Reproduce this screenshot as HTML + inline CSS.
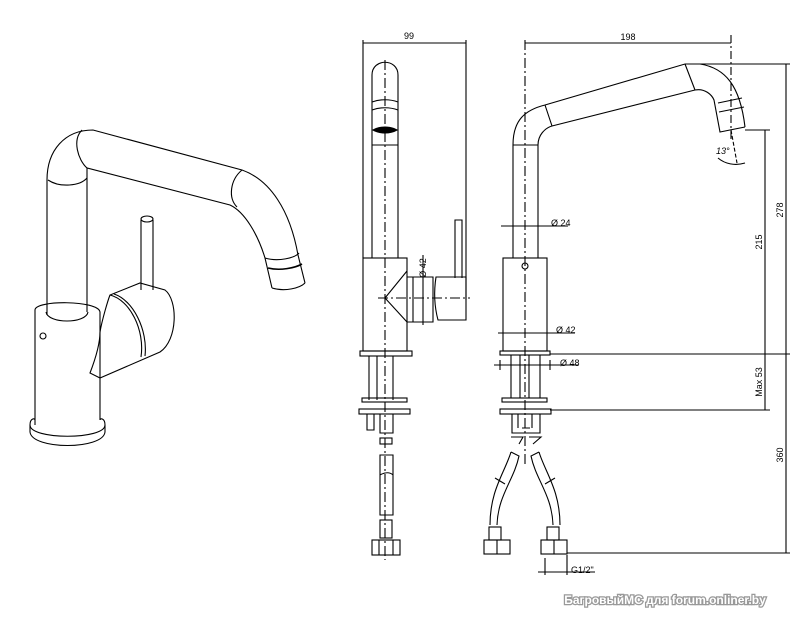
<!DOCTYPE html>
<html><head><meta charset="utf-8"><style>
html,body{margin:0;padding:0;background:#fff}
svg{display:block}
text{font-family:"Liberation Sans",sans-serif;font-size:9px;fill:#000}
</style></head><body>
<svg width="800" height="623" viewBox="0 0 800 623" xmlns="http://www.w3.org/2000/svg">
<g fill="none" stroke="#000" stroke-width="1.1">
<!-- ISO VIEW -->
<path d="M47,315 V180 C47,150 65,130 93,130 L242,170 C270,180 290,210 298,255 L305,283"/>
<path d="M87,312 V168 L230,205 C245,212 258,235 265,258 L272,288"/>
<path d="M82,130 C72,140 78,160 87,168" />
<path d="M48,180 C60,188 80,186 87,178"/>
<path d="M242,170 C230,180 228,198 237,207"/>
<path d="M265,258 C278,262 295,258 299,253"/>
<path d="M268,268 C280,271 295,268 302,264" stroke-width="1.6"/>
<path d="M272,288 C285,292 300,288 305,283"/>
<path d="M35,310 C35,300 98,300 100,312 V420"/>
<path d="M35,310 V425"/>
<path d="M46,312 C48,324 86,324 88,312"/>
<path d="M30,425 C30,440 105,440 105,425 C105,418 100,418 100,420"/>
<path d="M30,425 C30,418 35,418 35,420"/>
<path d="M30,432 C32,450 103,450 105,432"/>
<path d="M30,425 V432 M105,425 V432"/>
<circle cx="43" cy="336" r="3"/>
<path d="M100,332 C102,320 108,300 110,295 L140,283 L165,290 C178,300 178,340 160,352 L100,378 L90,373 C95,360 100,345 100,332"/>
<path d="M110,295 C130,300 145,330 141,357"/>
<path d="M114,294 C133,300 148,330 145,356"/>
<path d="M141,220 V290 M153,220 V290"/>
<ellipse cx="147" cy="219" rx="6" ry="3"/>
</g>

<!-- FRONT VIEW -->
<g fill="none" stroke="#000" stroke-width="1.1">
<path d="M372,258 V75 C372,58 398,58 398,75 V258"/>
<path d="M372,102 C380,99 390,99 398,102 M372,110 C380,107 390,107 398,110 M372,145 H398"/>
<path d="M373,130 C380,126 390,126 397,130 C390,134 380,134 373,130 Z" fill="#000"/>
<rect x="363" y="258" width="44" height="93"/>
<path d="M407,271 L385,298 L407,322"/>
<path d="M407,277 H433 V322 H407 M413,277 V322"/>
<path d="M436,277 H466 V320 H438 C434,305 434,290 436,277 Z"/>
<path d="M455,278 V220 H462 V278"/>
<rect x="360" y="351" width="52" height="5"/>
<path d="M369,356 V400 M377,356 V400 M393,356 V400"/>
<rect x="362" y="398" width="45" height="4"/>
<rect x="359" y="409" width="51" height="5"/>
<path d="M367,414 V430 H374 V414 M380,414 V433 H393 V414"/>
<rect x="380" y="438" width="12" height="6"/>
<path d="M380,455 H393 V515 H380 Z M380,475 C385,472 390,472 393,475"/>
<rect x="380" y="520" width="12" height="18"/>
<rect x="372" y="540" width="28" height="15"/>
<path d="M379,540 V555 M393,540 V555"/>
<path d="M385,60 V560" stroke-dasharray="10,3,2,3"/>
<path d="M378,298 H470" stroke-dasharray="10,3,2,3"/>
<path d="M423,255 V325"/>
<path d="M363,40 V258 M466,40 V300 M363,43 H466"/>
</g>
<text x="409" y="39" text-anchor="middle">99</text>
<text x="426" y="268" transform="rotate(-90 426 268)" text-anchor="middle">Ø 42</text>

<!-- SIDE VIEW -->
<g fill="none" stroke="#000" stroke-width="1.1">
<path d="M513,258 V145 C513,120 525,110 545,105 L685,64 L700,64 C725,68 740,85 745,127"/>
<path d="M538,258 V145 C538,135 545,128 552,126 L695,90 C705,88 712,95 714,100 L720,132 L745,127"/>
<path d="M545,105 L552,126 M685,64 L695,90 M718,103 L742,98 M719,112 L744,107"/>
<path d="M513,145 H538"/>
<rect x="503" y="258" width="44" height="93"/>
<circle cx="525" cy="266" r="3"/>
<rect x="500" y="351" width="50" height="4"/>
<path d="M511,355 V398 M540,355 V398 M520,355 V398 M529,355 V398"/>
<rect x="502" y="398" width="45" height="4"/>
<rect x="500" y="409" width="51" height="5"/>
<path d="M512,414 V433 H540 V414 M518,414 V428 M532,414 V428 M522,428 H530"/>
<path d="M511,437 H523 L519,444 M529,437 H541 L533,444"/>
<path d="M511,452 L519,456 C514,480 498,495 497,525 M511,452 C505,472 490,490 490,525 M495,478 L505,484"/>
<path d="M539,452 L531,456 C536,480 552,495 553,525 M539,452 C545,472 560,490 560,525 M545,484 L555,478"/>
<rect x="489" y="527" width="12" height="13"/>
<rect x="547" y="527" width="12" height="13"/>
<rect x="484" y="540" width="26" height="14"/>
<rect x="541" y="540" width="26" height="14"/>
<path d="M497,540 V554 M554,540 V554"/>
<path d="M525,40 V465" stroke-dasharray="10,3,2,3"/>
<path d="M731,35 V140" stroke-dasharray="8,3,2,3"/>
<path d="M731,130 L737,163" stroke-dasharray="4,2"/>
<path d="M718,158 C725,164 735,166 745,163"/>
<path d="M525,43 H731"/>
<path d="M700,64 H790 M745,130 H770 M550,354 H790 M550,410 H770 M567,553 H790"/>
<path d="M786,64 V553 M765,130 V410"/>
<path d="M501,226 H548 M548,226 H568"/>
<path d="M498,333 H575"/>
<path d="M494,365 H578 M500,360 V370 M550,360 V370"/>
<path d="M545,558 V575 M567,555 V575 M538,572 H595"/>
</g>
<text x="628" y="40" text-anchor="middle">198</text>
<text x="551" y="226">Ø 24</text>
<text x="556" y="333">Ø 42</text>
<text x="560" y="366">Ø 48</text>
<text x="571" y="573">G1/2"</text>
<text x="716" y="154" font-style="italic">13°</text>
<text x="783" y="210" transform="rotate(-90 783 210)" text-anchor="middle">278</text>
<text x="762" y="242" transform="rotate(-90 762 242)" text-anchor="middle">215</text>
<text x="762" y="382" transform="rotate(-90 762 382)" text-anchor="middle">Max 53</text>
<text x="783" y="455" transform="rotate(-90 783 455)" text-anchor="middle">360</text>
<text x="665" y="604" text-anchor="middle" style="font-size:12px;font-weight:bold;fill:#fff;stroke:#999;stroke-width:2.5;paint-order:stroke">БагровыйМС для forum.onliner.by</text>
</svg>
</body></html>
